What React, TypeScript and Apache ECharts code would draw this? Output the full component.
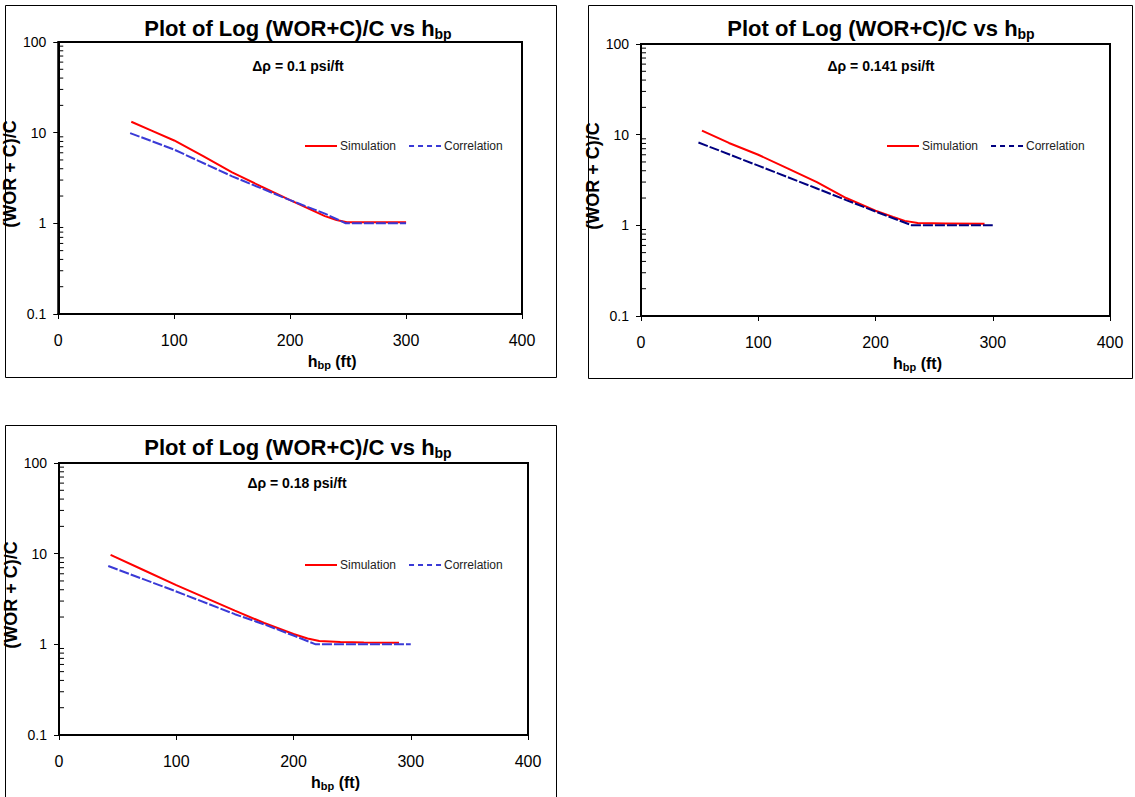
import React, { useEffect, useRef } from "react";
import * as echarts from "echarts";

// ---------- data ----------
const xTickValues = [0, 100, 200, 300, 400];
const yMinorTicks = [0.2, 0.3, 0.4, 0.5, 0.6, 0.7, 0.8, 0.9, 2, 3, 4, 5, 6, 7, 8, 9, 20, 30, 40, 50, 60, 70, 80, 90];
const deltaLabels = ["Δρ = 0.1 psi/ft", "Δρ = 0.141 psi/ft", "Δρ = 0.18 psi/ft"];
const seriesNames = ["Simulation", "Correlation"];

// Δρ = 0.1 psi/ft
const sim1H = [63, 80, 100, 125, 150, 175, 200, 215, 230, 240, 249, 275, 300];
const sim1V = [13.2, 10.6, 8.2, 5.5, 3.65, 2.55, 1.8, 1.47, 1.2, 1.09, 1.03, 1.03, 1.03];
const corr1H = [62, 100, 150, 200, 230, 248, 275, 300];
const corr1V = [9.9, 6.5, 3.3, 1.8, 1.28, 1.0, 1.0, 1.0];

// Δρ = 0.141 psi/ft
const sim2H = [52, 75, 100, 125, 150, 175, 200, 215, 225, 236, 260, 293];
const sim2V = [11.1, 8.1, 6.0, 4.25, 3.0, 2.0, 1.45, 1.24, 1.12, 1.06, 1.05, 1.04];
const corr2H = [49, 100, 150, 175, 200, 231, 300];
const corr2V = [8.2, 4.55, 2.55, 1.9, 1.42, 1.0, 1.0];

// Δρ = 0.18 psi/ft
const sim3H = [44, 72, 100, 125, 150, 175, 200, 212, 222, 240, 260, 290];
const sim3V = [9.7, 6.6, 4.5, 3.25, 2.35, 1.72, 1.3, 1.16, 1.09, 1.06, 1.05, 1.04];
const corr3H = [42, 100, 150, 175, 200, 219, 300];
const corr3V = [7.3, 3.83, 2.15, 1.66, 1.25, 1.0, 1.0];

const FONT = "'Liberation Sans', Arial, Helvetica, sans-serif";
const SOLID_ICON = "path://M0,0h32v2h-32z";
const DASH_ICON = "path://M0,0h5v2h-5z M9,0h5v2h-5z M18,0h5v2h-5z M27,0h5v2h-5z";

const panels = [
  {
    simH: sim1H, simV: sim1V, corrH: corr1H, corrV: corr1V,
    corrColor: "#3a3ad6",
    grid: { left: 54, top: 42, width: 468, height: 272 },
    box: { x: 5.5, y: 5.5, width: 551, height: 372 },
    titleX: 298, titleY: 28, noteX: 298, noteY: 66,
    legendLeft: 305, legendTop: 140,
  },
  {
    simH: sim2H, simV: sim2V, corrH: corr2H, corrV: corr2V,
    corrColor: "#000080",
    grid: { left: 641, top: 44, width: 469, height: 272 },
    box: { x: 588.5, y: 5.5, width: 544, height: 373 },
    titleX: 881, titleY: 28, noteX: 881, noteY: 66,
    legendLeft: 887, legendTop: 140,
  },
  {
    simH: sim3H, simV: sim3V, corrH: corr3H, corrV: corr3V,
    corrColor: "#3a3ad6",
    grid: { left: 59, top: 463, width: 469, height: 272 },
    box: { x: 5.5, y: 425.5, width: 551, height: 400 },
    titleX: 298, titleY: 447, noteX: 297, noteY: 483,
    legendLeft: 305, legendTop: 559,
  },
];

const zip = (h: number[], v: number[]) => h.map((x, i) => [x, v[i]]);

export default function App() {
  const ref = useRef<HTMLDivElement>(null);
  useEffect(() => {
    if (!ref.current) return;
    const chart = echarts.init(ref.current, null, { renderer: "svg" });

    const grids: any[] = [];
    const xAxes: any[] = [];
    const yAxes: any[] = [];
    const series: any[] = [];
    const legends: any[] = [];
    const graphics: any[] = [];

    panels.forEach((p, i) => {
      grids.push({ ...p.grid, show: true, borderColor: "#000", borderWidth: 2, backgroundColor: "#fff", containLabel: false });
      xAxes.push({
        type: "value", gridIndex: i, min: xTickValues[0], max: xTickValues[xTickValues.length - 1], interval: 100,
        axisLine: { show: true, lineStyle: { color: "#000", width: 2 } },
        axisTick: { show: true, length: 5, lineStyle: { color: "#000", width: 1 } },
        axisLabel: { color: "#000", fontSize: 16, fontFamily: FONT, margin: 18 },
        splitLine: { show: false },
        name: "h{s|bp} (ft)",
        nameLocation: "middle",
        nameGap: 38,
        nameTextStyle: {
          color: "#000", fontSize: 16, fontWeight: "bold", fontFamily: FONT, lineHeight: 18,
          padding: [0, 0, 0, 84],
          rich: { s: { fontSize: 11, fontWeight: "bold", fontFamily: FONT, lineHeight: 11, verticalAlign: "bottom", color: "#000" } },
        },
      });
      yAxes.push({
        type: "log", logBase: 10, gridIndex: i, min: 0.1, max: 100,
        axisLine: { show: true, lineStyle: { color: "#000", width: 2 } },
        axisTick: { show: true, length: 5, lineStyle: { color: "#000", width: 1 } },
        axisLabel: {
          color: "#000", fontSize: 14, fontFamily: FONT, margin: 12,
          formatter: (v: number) => String(parseFloat(v.toPrecision(3))),
        },
        splitLine: { show: false },
        minorTick: { show: false },
        name: "(WOR + C)/C",
        nameLocation: "middle",
        nameRotate: 90,
        nameGap: 16,
        nameTextStyle: { color: "#000", fontSize: 18, fontWeight: "bold", fontFamily: FONT, padding: [0, 0, 0, 8] },
      });
      series.push({
        name: seriesNames[0] + "#" + i, type: "line", xAxisIndex: i, yAxisIndex: i,
        data: zip(p.simH, p.simV), symbol: "none", showSymbol: false, smooth: false,
        lineStyle: { color: "#ff0000", width: 2 }, itemStyle: { color: "#ff0000" }, z: 3,
      });
      series.push({
        name: seriesNames[1] + "#" + i, type: "line", xAxisIndex: i, yAxisIndex: i,
        data: zip(p.corrH, p.corrV), symbol: "none", showSymbol: false, smooth: false,
        lineStyle: { color: p.corrColor, width: 2, type: [10, 2] }, itemStyle: { color: p.corrColor }, z: 4,
      });
      // log minor ticks drawn through the axis scale
      series.push({
        type: "custom", xAxisIndex: i, yAxisIndex: i, silent: true, clip: false,
        data: yMinorTicks.map((v) => [xTickValues[0], v]),
        renderItem: (params: any, api: any) => {
          const pt = api.coord([api.value(0), api.value(1)]);
          return {
            type: "line",
            shape: { x1: pt[0] + 1, y1: pt[1], x2: pt[0] + 5, y2: pt[1] },
            style: { stroke: "#000", lineWidth: 1 },
          };
        },
        z: 5,
      });
      legends.push({
        left: p.legendLeft, top: p.legendTop, padding: 0, orient: "horizontal",
        data: [
          { name: seriesNames[0] + "#" + i, icon: SOLID_ICON, itemStyle: { color: "#ff0000" } },
          { name: seriesNames[1] + "#" + i, icon: DASH_ICON, itemStyle: { color: p.corrColor } },
        ],
        formatter: (n: string) => n.split("#")[0],
        itemWidth: 32, itemHeight: 2, itemGap: 13, selectedMode: false,
        textStyle: { fontSize: 12, color: "#222", fontFamily: FONT, padding: [0, 0, 0, -2] },
      });
      graphics.push({
        type: "rect", z: -10, silent: true,
        shape: { x: p.box.x, y: p.box.y, width: p.box.width, height: p.box.height },
        style: { fill: "none", stroke: "#000", lineWidth: 1 },
      });
      graphics.push({
        type: "text", x: p.titleX, y: p.titleY, silent: true,
        style: {
          text: "Plot of Log (WOR+C)/C vs h{s|bp}",
          fontSize: 22, fontWeight: "bold", fontFamily: FONT, fill: "#000", lineHeight: 26,
          align: "center", verticalAlign: "middle",
          rich: { s: { fontSize: 14, fontWeight: "bold", fontFamily: FONT, lineHeight: 14, verticalAlign: "bottom", fill: "#000" } },
        },
      });
      graphics.push({
        type: "text", x: p.noteX, y: p.noteY, silent: true,
        style: {
          text: deltaLabels[i], fontSize: 14, fontWeight: "bold", fontFamily: FONT, fill: "#000",
          align: "center", verticalAlign: "middle",
        },
      });
    });

    chart.setOption({
      animation: false,
      backgroundColor: "#fff",
      grid: grids,
      xAxis: xAxes,
      yAxis: yAxes,
      series,
      legend: legends,
      graphic: { elements: graphics },
    });
    return () => chart.dispose();
  }, []);

  return (
    <div
      ref={ref}
      style={{ position: "fixed", left: 0, top: 0, width: 1135, height: 797, background: "#fff" }}
    />
  );
}
